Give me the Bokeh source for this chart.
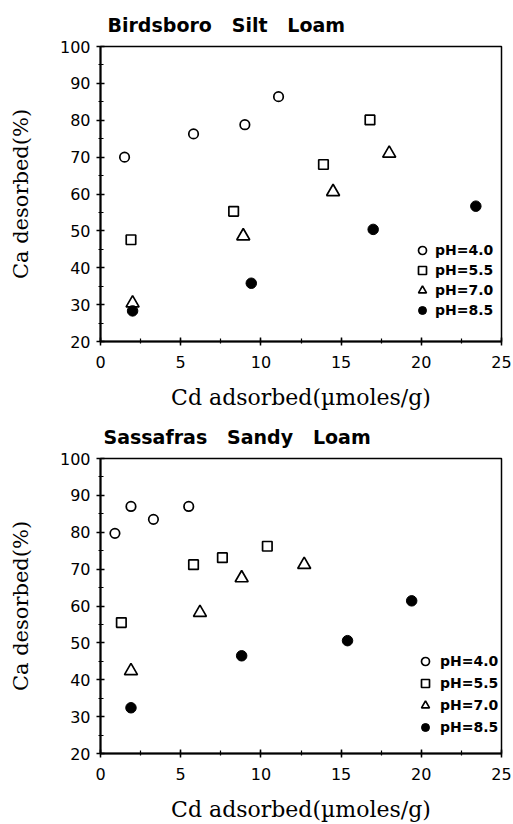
from bokeh.plotting import figure
from bokeh.models import Legend, LegendItem, SingleIntervalTicker, Range1d
from bokeh.layouts import column
from bokeh.embed import file_html
from bokeh.resources import INLINE

# ---------------- data ----------------
titles = ["Birdsboro \u00a0 Silt \u00a0 Loam", "Sassafras \u00a0 Sandy \u00a0 Loam"]
x_label = "Cd adsorbed(\u00b5moles/g)"
y_label = "Ca desorbed(%)"
series_labels = ["pH=4.0", "pH=5.5", "pH=7.0", "pH=8.5"]

# Birdsboro Silt Loam
b_ph40_x = [1.5, 5.8, 9.0, 11.1]
b_ph40_y = [70.0, 76.3, 78.8, 86.4]
b_ph55_x = [1.9, 8.3, 13.9, 16.8]
b_ph55_y = [47.6, 55.3, 68.0, 80.1]
b_ph70_x = [2.0, 8.9, 14.5, 18.0]
b_ph70_y = [30.4, 48.6, 60.6, 71.0]
b_ph85_x = [2.0, 9.4, 17.0, 23.4]
b_ph85_y = [28.3, 35.8, 50.4, 56.7]

# Sassafras Sandy Loam
s_ph40_x = [0.9, 1.9, 3.3, 5.5]
s_ph40_y = [79.7, 87.0, 83.5, 87.0]
s_ph55_x = [1.3, 5.8, 7.6, 10.4]
s_ph55_y = [55.5, 71.2, 73.1, 76.2]
s_ph70_x = [1.9, 6.2, 8.8, 12.7]
s_ph70_y = [42.4, 58.2, 67.6, 71.2]
s_ph85_x = [1.9, 8.8, 15.4, 19.4]
s_ph85_y = [32.4, 46.5, 50.6, 61.4]

x_range = (0, 25)
y_range = (20, 100)

SANS = "DejaVu Sans"
SERIF = "DejaVu Serif"


def make_panel(title, series, height, border_top, border_bottom, border_left,
               border_right, title_offset, legend_loc, legend_spacing, legend_standoff):
    p = figure(width=513, height=height, output_backend="svg", toolbar_location=None,
               x_range=Range1d(*x_range), y_range=Range1d(*y_range),
               min_border_top=border_top, min_border_bottom=border_bottom,
               min_border_left=border_left, min_border_right=border_right)
    p.background_fill_color = "white"
    p.border_fill_color = "white"
    p.grid.visible = False
    p.outline_line_color = "black"
    p.outline_line_width = 1.5

    p.title.text = title
    p.title.text_font = SANS
    p.title.text_font_style = "bold"
    p.title.text_font_size = "19px"
    p.title.text_color = "black"
    p.title.align = "left"
    p.title.offset = title_offset
    p.title.standoff = 22

    p.xaxis.ticker = SingleIntervalTicker(interval=5, num_minor_ticks=2)
    p.yaxis.ticker = SingleIntervalTicker(interval=10, num_minor_ticks=2)
    for ax in (p.xaxis, p.yaxis):
        ax.axis_line_width = 2
        ax.axis_line_color = "black"
        ax.major_tick_line_width = 1.5
        ax.minor_tick_line_width = 1.2
        ax.major_tick_in = 4
        ax.major_tick_out = 4
        ax.minor_tick_in = 3
        ax.minor_tick_out = 2
        ax.major_label_text_font = SANS
        ax.major_label_text_font_size = "16px"
        ax.major_label_text_color = "black"
        ax.axis_label_text_font = SERIF
        ax.axis_label_text_font_style = "normal"
        ax.axis_label_text_color = "black"
    p.xaxis.axis_label = x_label
    p.yaxis.axis_label = y_label
    p.xaxis.axis_label_text_font_size = "22px"
    p.yaxis.axis_label_text_font_size = "21px"
    p.xaxis.major_label_standoff = 10
    p.yaxis.major_label_standoff = 6
    p.xaxis.axis_label_standoff = 14
    p.yaxis.axis_label_standoff = 24

    (x40, y40), (x55, y55), (x70, y70), (x85, y85) = series
    r40 = p.scatter(x40, y40, marker="circle", size=9.5, fill_color=None,
                    line_color="black", line_width=1.7)
    r55 = p.scatter(x55, y55, marker="square", size=9.5, fill_color=None,
                    line_color="black", line_width=1.7)
    r70 = p.scatter(x70, y70, marker="triangle", size=13, fill_color=None,
                    line_color="black", line_width=1.7)
    r85 = p.scatter(x85, y85, marker="circle", size=10.5, fill_color="black",
                    line_color="black", line_width=1)

    legend = Legend(items=[LegendItem(label=lab, renderers=[r])
                           for lab, r in zip(series_labels, [r40, r55, r70, r85])],
                    location=legend_loc, orientation="vertical",
                    glyph_width=20, glyph_height=20, spacing=legend_spacing,
                    label_standoff=legend_standoff, padding=0, margin=0,
                    border_line_color=None, background_fill_alpha=0,
                    label_text_font=SANS, label_text_font_style="bold",
                    label_text_font_size="14px", label_text_color="black")
    p.add_layout(legend)
    return p


p1 = make_panel(titles[0],
                [(b_ph40_x, b_ph40_y), (b_ph55_x, b_ph55_y),
                 (b_ph70_x, b_ph70_y), (b_ph85_x, b_ph85_y)],
                height=412, border_top=45, border_bottom=70, border_left=97,
                border_right=12, title_offset=7, legend_loc=(312, 21),
                legend_spacing=0, legend_standoff=3)
p2 = make_panel(titles[1],
                [(s_ph40_x, s_ph40_y), (s_ph55_x, s_ph55_y),
                 (s_ph70_x, s_ph70_y), (s_ph85_x, s_ph85_y)],
                height=412, border_top=46, border_bottom=71, border_left=100,
                border_right=11, title_offset=3, legend_loc=(315, 16),
                legend_spacing=2, legend_standoff=5)

layout = column(p1, p2)
open("out.html", "w").write(file_html(layout, INLINE))
